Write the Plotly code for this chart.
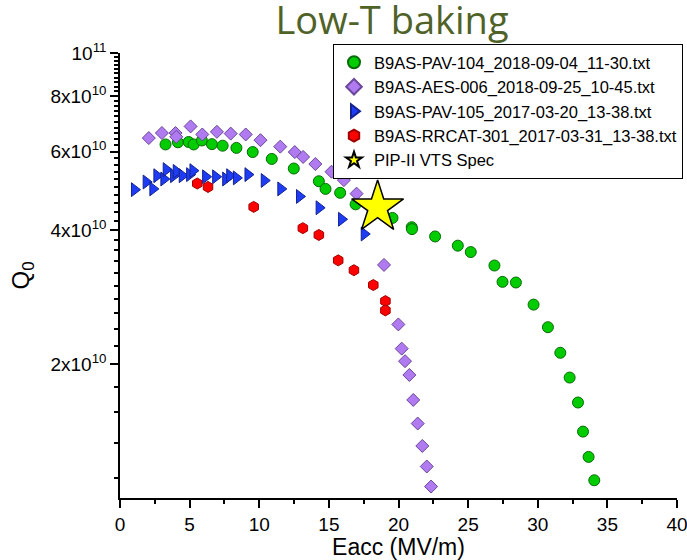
import plotly.graph_objects as go

# ---- data -------------------------------------------------------------
chart_title = "Low-T baking"
x_title = "Eacc (MV/m)"
y_title = "Q<sub>0</sub>"

names = [
    "B9AS-PAV-104_2018-09-04_11-30.txt",
    "B9AS-AES-006_2018-09-25_10-45.txt",
    "B9AS-PAV-105_2017-03-20_13-38.txt",
    "B9AS-RRCAT-301_2017-03-31_13-38.txt",
    "PIP-II VTS Spec",
]

pav104_eacc = [3.27, 4.16, 4.93, 5.29, 5.88, 6.60, 7.37, 8.36, 9.53, 10.90,
               12.48, 14.28, 14.76, 15.81, 16.92, 19.57, 20.95, 20.97, 22.63,
               24.26, 25.19, 26.89, 27.47, 28.43, 29.70, 30.73, 31.62, 32.29,
               32.89, 33.25, 33.65, 34.06]
pav104_q0 = [6.23e10, 6.30e10, 6.31e10, 6.23e10, 6.36e10, 6.24e10, 6.19e10,
             6.12e10, 5.99e10, 5.78e10, 5.50e10, 5.15e10, 4.95e10, 4.85e10,
             4.57e10, 4.26e10, 4.06e10, 4.02e10, 3.87e10, 3.69e10, 3.57e10,
             3.33e10, 3.06e10, 3.05e10, 2.72e10, 2.42e10, 2.12e10, 1.865e10,
             1.639e10, 1.41e10, 1.237e10, 1.096e10]

aes006_eacc = [2.07, 3.01, 3.99, 4.04, 5.07, 5.91, 6.96, 7.95, 9.03, 10.09,
               11.51, 12.55, 13.15, 14.03, 15.19, 16.08, 16.99, 18.96, 19.99,
               20.23, 20.47, 20.78, 21.06, 21.38, 21.71, 22.03, 22.34]
aes006_q0 = [6.44e10, 6.61e10, 6.61e10, 6.48e10, 6.84e10, 6.56e10, 6.65e10,
             6.59e10, 6.56e10, 6.37e10, 6.16e10, 5.99e10, 5.84e10, 5.63e10,
             5.41e10, 5.18e10, 4.83e10, 3.34e10, 2.455e10, 2.166e10, 2.03e10,
             1.89e10, 1.661e10, 1.47e10, 1.309e10, 1.177e10, 1.061e10]

pav105_eacc = [1.04, 1.88, 2.36, 2.65, 3.15, 3.32, 3.85, 4.04, 4.47, 5.00,
               5.24, 6.15, 6.87, 7.59, 7.88, 8.36, 9.19, 10.36, 11.55, 12.89,
               14.30, 15.91, 17.54]
pav105_q0 = [4.93e10, 5.13e10, 4.95e10, 5.30e10, 5.21e10, 5.47e10, 5.30e10,
             5.42e10, 5.30e10, 5.33e10, 5.44e10, 5.27e10, 5.27e10, 5.21e10,
             5.30e10, 5.24e10, 5.33e10, 5.17e10, 4.95e10, 4.76e10, 4.49e10,
             4.23e10, 3.92e10]

rrcat301_eacc = [5.55, 6.32, 9.60, 13.13, 14.28, 15.67, 16.80, 18.19, 19.06, 19.06]
rrcat301_q0 = [5.09e10, 5.00e10, 4.51e10, 4.04e10, 3.90e10, 3.42e10, 3.25e10,
               3.01e10, 2.77e10, 2.64e10]

spec_eacc = [18.5]
spec_q0 = [4.5e10]

x_ticks = [0, 5, 10, 15, 20, 25, 30, 35, 40]
y_tickvals = [2e10, 4e10, 6e10, 8e10, 1e11]
y_ticktext = ["2x10<sup>10</sup>", "4x10<sup>10</sup>", "6x10<sup>10</sup>",
              "8x10<sup>10</sup>", "10<sup>11</sup>"]
y_minor = ([1.11e10, 1.33e10, 1.56e10, 1.78e10]
           + [v * 1e9 for v in range(22, 100, 2) if v % 20 != 0])

# ---- figure -----------------------------------------------------------
AX = "black"
fig = go.Figure()

styles = [
    dict(symbol="circle", size=11, color="#00cc00", line=dict(color="#0a6a0a", width=1)),
    dict(symbol="diamond", size=10, color="#b07af0", line=dict(color="#6b479a", width=1)),
    dict(symbol="triangle-right", size=12, color="#1f3cf5", line=dict(color="#14238f", width=1)),
    dict(symbol="hexagon", size=11, color="#ff0000", line=dict(color="#a00000", width=1)),
    dict(symbol="star", size=39, color="#ffff00", line=dict(color="black", width=1.5)),
]
datasets = [
    (pav104_eacc, pav104_q0),
    (aes006_eacc, aes006_q0),
    (pav105_eacc, pav105_q0),
    (rrcat301_eacc, rrcat301_q0),
    (spec_eacc, spec_q0),
]
for name, (xs, ys), st in zip(names, datasets, styles):
    fig.add_trace(go.Scatter(x=xs, y=ys, mode="markers", name=name, marker=st))

tick_font = dict(family="Arial", size=19, color="black")

fig.update_layout(
    width=687, height=560,
    margin=dict(l=120, r=10, t=53, b=62, autoexpand=False),
    paper_bgcolor="white", plot_bgcolor="white",
    title=dict(text=chart_title, x=392 / 687, xanchor="center",
               y=1 - 21 / 560, yanchor="middle",
               font=dict(family="Open Sans", size=38, color="#4f6228")),
    showlegend=True,
    legend=dict(x=(333 - 120) / 557, y=(498 - 44) / 445, xanchor="left", yanchor="top",
                bgcolor="white", bordercolor="black", borderwidth=1,
                font=dict(family="Arial", size=16.5, color="black"),
                itemsizing="constant", tracegroupgap=0),
    xaxis=dict(range=[0, 40], tickvals=x_ticks, ticks="outside", ticklen=8,
               tickwidth=1.5, tickcolor=AX, showline=True, linecolor=AX,
               linewidth=1.5, showgrid=False, zeroline=False, tickfont=tick_font,
               ticklabeloverflow="allow",
               minor=dict(dtick=2.5, tick0=0, ticks="outside", ticklen=4,
                          tickcolor=AX, tickwidth=1.5),
               title=dict(text=x_title, font=dict(family="Arial", size=23, color="black"),
                          standoff=6)),
    yaxis=dict(type="log", range=[10, 11], tickvals=y_tickvals, ticktext=y_ticktext,
               ticks="outside", ticklen=8, tickwidth=1.5, tickcolor=AX,
               showline=True, linecolor=AX, linewidth=1.5, showgrid=False,
               zeroline=False, tickfont=tick_font, ticklabeloverflow="allow",
               minor=dict(tickvals=y_minor, ticks="outside", ticklen=4,
                          tickcolor=AX, tickwidth=1.5),
               title=dict(text=y_title, font=dict(family="Arial", size=24, color="black"),
                          standoff=14)),
    xaxis2=dict(range=[0, 40], overlaying="x", side="top", anchor="y",
                tickvals=x_ticks, ticks="inside", ticklen=8, tickwidth=1.5,
                tickcolor=AX, showticklabels=False, showline=True, linecolor=AX,
                linewidth=1.5, showgrid=False, zeroline=False,
                minor=dict(dtick=2.5, tick0=0, ticks="inside", ticklen=4,
                           tickcolor=AX, tickwidth=1.5)),
    yaxis2=dict(type="log", range=[10, 11], overlaying="y", side="right", anchor="x",
                tickvals=y_tickvals, ticks="inside", ticklen=8, tickwidth=1.5,
                tickcolor=AX, showticklabels=False, showline=True, linecolor=AX,
                linewidth=1.5, showgrid=False, zeroline=False,
                minor=dict(tickvals=y_minor, ticks="inside", ticklen=4,
                           tickcolor=AX, tickwidth=1.5)),
)

fig.write_html("out.html")
